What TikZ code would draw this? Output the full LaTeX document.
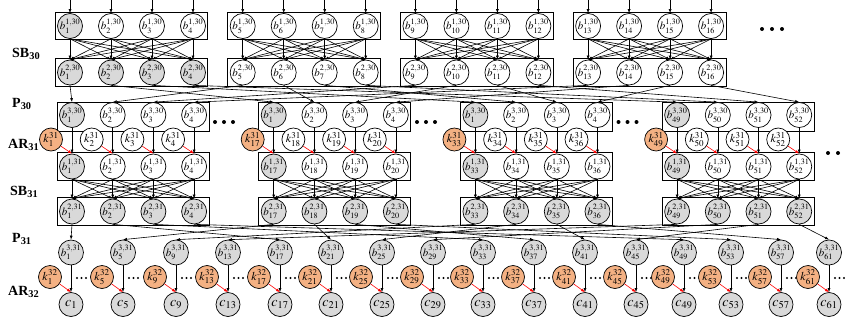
\documentclass[tikz,border=0pt]{standalone}
\usepackage{mathptmx}
\usepackage{fontspec}
\setmainfont{Liberation Serif}
\usetikzlibrary{arrows.meta, fit, backgrounds}
\definecolor{nodegray}{RGB}{217,217,217}
\definecolor{keyorange}{RGB}{244,177,131}

\begin{document}
\begin{tikzpicture}[
    x=1pt, y=-1pt,
    bnode/.style={circle, draw, line width=0.7pt, fill=white, minimum size=25pt, inner sep=0pt, font=\fontsize{11}{12}\selectfont},
    knode/.style={circle, draw, line width=0.7pt, fill=white, minimum size=23pt, inner sep=0pt, font=\fontsize{12}{13}\selectfont},
    cnode/.style={bnode, fill=nodegray, minimum size=24pt, font=\fontsize{14}{15}\selectfont},
    grp/.style={draw, line width=0.8pt, inner xsep=2pt, inner ysep=1pt},
    layer/.style={font=\fontsize{14}{15}\selectfont\bfseries, anchor=base west, inner sep=0pt},
    arrow/.style={-{Latex[length=4pt, width=3pt]}, line width=0.6pt},
    karrow/.style={arrow, red}
]
\useasboundingbox (0,0) rectangle (845,324);

% layer names
\node[layer] (lSB30) at (12,57) {SB\textsubscript{30}};
\node[layer] (lP30) at (12,107) {P\textsubscript{30}};
\node[layer] (lAR31) at (8,148) {AR\textsubscript{31}};
\node[layer] (lSB31) at (10,195) {SB\textsubscript{31}};
\node[layer] (lP31) at (12,242) {P\textsubscript{31}};
\node[layer] (lAR32) at (8,295) {AR\textsubscript{32}};

% round 30: S-box layer
\foreach \kk in {0,...,3}{
  \foreach \jj in {1,...,4}{
    \pgfmathtruncatemacro\nn{4*\kk+\jj}
    \pgfmathsetmacro\xt{70+172.7*\kk+41*(\jj-1)}
    \ifnum\nn=1 \def\fa{nodegray}\else\def\fa{white}\fi
    \ifnum\kk=0 \def\fb{nodegray}\else\def\fb{white}\fi
    \coordinate (in-\nn) at (\xt,0);
    \node[bnode, fill=\fa] (r1-\nn) at (\xt,26) {$b_{\nn}^{1{,}30}$};
    \node[bnode, fill=\fb] (r2-\nn) at (\xt,72.5) {$b_{\nn}^{2{,}30}$};
  }
}

% round 31: key addition and S-box layer
\foreach \kk in {0,...,3}{
  \foreach \jj in {1,...,4}{
    \pgfmathtruncatemacro\dd{4*\kk+\jj}
    \pgfmathtruncatemacro\nn{16*\kk+\jj}
    \pgfmathsetmacro\xm{72+201.7*\kk+40.7*(\jj-1)}
    \ifnum\jj=1 \def\fa{nodegray}\def\fk{keyorange}\else\def\fa{white}\def\fk{white}\fi
    \ifnum\kk=3 \edef\lab{\nn}\else\edef\lab{\jj}\fi
    \node[bnode, fill=\fa] (r3-\dd) at (\xm,115) {$b_{\lab}^{3{,}30}$};
    \node[knode, fill=\fk] (k31-\dd) at (\xm-21,139.5) {$k_{\nn}^{31}$};
    \node[bnode, fill=\fa] (r4-\dd) at (\xm,166.5) {$b_{\nn}^{1{,}31}$};
    \node[bnode, fill=nodegray] (r5-\dd) at (\xm,211.5) {$b_{\nn}^{2{,}31}$};
  }
}

% round 32: key addition
\foreach \xb [count=\mm] in {71,123,176,228,280,331,382,433,483,534,585,636,684,731,781,829}{
  \pgfmathtruncatemacro\nn{4*\mm-3}
  \node[bnode, fill=nodegray, minimum size=24pt] (r6-\mm) at (\xb,252.5) {$b_{\nn}^{3{,}31}$};
  \node[knode, fill=keyorange] (k32-\mm) at (\xb-21,277) {$k_{\nn}^{32}$};
  \node[cnode] (c-\mm) at (\xb,304.5) {$c_{\nn}$};
  \foreach \dx in {6,10.5,15} \fill (\xb+\dx,278) circle (1.2);
}

% boxes
\begin{scope}[on background layer]
\foreach \kk in {0,...,3}{
  \pgfmathtruncatemacro\fst{4*\kk+1}
  \pgfmathtruncatemacro\lst{4*\kk+4}
  \node[grp, fit=(r1-\fst)(r1-\lst)] (box1-\kk) {};
  \node[grp, fit=(r2-\fst)(r2-\lst)] (box2-\kk) {};
  \node[grp, inner ysep=1.5pt, yshift=-2pt, fit=(r3-\fst)(r3-\lst)] (box3-\kk) {};
  \node[grp, fit=(r4-\fst)(r4-\lst)] (box4-\kk) {};
  \node[grp, fit=(r5-\fst)(r5-\lst)] (box5-\kk) {};
}
\end{scope}

% dots
\foreach \xd in {762,772,782} \fill (\xd,29) circle (2);
\foreach \xd in {215,224,233,417,426,435,618.5,627.5,636.5} \fill (\xd,122) circle (2);
\foreach \xd in {828,838,848} \fill (\xd,153) circle (2);

% inputs
\foreach \nn in {1,...,16} \draw[arrow] (in-\nn) -- (r1-\nn.north);

% SB30 and SB31
\foreach \kk in {0,...,3}
  \foreach \ii in {1,...,4}
    \foreach \jj in {1,...,4}{
      \pgfmathtruncatemacro\src{4*\kk+\ii}
      \pgfmathtruncatemacro\tgt{4*\kk+\jj}
      \draw[arrow] (r1-\src.south) -- (r2-\tgt.north);
      \draw[arrow] (r4-\src.south) -- (r5-\tgt.north);
    }

% P30 and P31
\foreach \ii in {1,...,16}{
  \pgfmathtruncatemacro\tgt{4*mod(\ii-1,4)+div(\ii-1,4)+1}
  \draw[arrow] (r2-\ii.south) -- (r3-\tgt.north);
  \draw[arrow] (r5-\ii.south) -- (r6-\tgt.north);
}

% AR31 and AR32
\foreach \ii in {1,...,16}{
  \draw[arrow] (r3-\ii.south) -- (r4-\ii.north);
  \draw[karrow] (k31-\ii) -- (r4-\ii.north);
  \draw[arrow] (r6-\ii.south) -- (c-\ii.north);
  \draw[karrow] (k32-\ii) -- (c-\ii.north);
}
\end{tikzpicture}
\end{document}
